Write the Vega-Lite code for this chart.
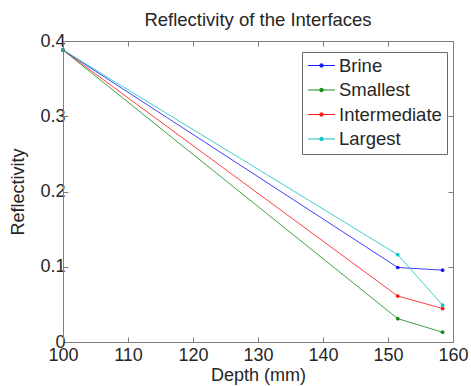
{
  "$schema": "https://vega.github.io/schema/vega-lite/v6.json",
  "autosize": {"type": "none"},
  "width": 390,
  "height": 301,
  "padding": {"left": 63, "top": 41, "right": 18, "bottom": 44},
  "background": "white",
  "config": {
    "font": "Liberation Sans",
    "view": {"stroke": null},
    "axis": {
      "grid": false,
      "domainColor": "#7f7f7f",
      "tickColor": "#7f7f7f",
      "tickSize": -5,
      "labelColor": "#262626",
      "titleColor": "#262626",
      "labelFontSize": 18,
      "titleFontSize": 18,
      "titleFontWeight": "normal",
      "labelFlush": false,
      "labelOverlap": false
    }
  },
  "title": {
    "text": "Reflectivity of the Interfaces",
    "fontSize": 18.5,
    "fontWeight": "normal",
    "color": "#262626",
    "anchor": "middle",
    "offset": 3
  },
  "data": {
    "values": [
      {"series": "Brine", "depth": 100, "reflectivity": 0.388},
      {"series": "Brine", "depth": 151.5, "reflectivity": 0.099},
      {"series": "Brine", "depth": 158.4, "reflectivity": 0.0955},
      {"series": "Smallest", "depth": 100, "reflectivity": 0.388},
      {"series": "Smallest", "depth": 151.5, "reflectivity": 0.031},
      {"series": "Smallest", "depth": 158.4, "reflectivity": 0.013},
      {"series": "Intermediate", "depth": 100, "reflectivity": 0.388},
      {"series": "Intermediate", "depth": 151.5, "reflectivity": 0.061},
      {"series": "Intermediate", "depth": 158.4, "reflectivity": 0.0445},
      {"series": "Largest", "depth": 100, "reflectivity": 0.388},
      {"series": "Largest", "depth": 151.5, "reflectivity": 0.116},
      {"series": "Largest", "depth": 158.4, "reflectivity": 0.049}
    ]
  },
  "resolve": {"axis": {"x": "independent", "y": "independent"}},
  "layer": [
    {
      "mark": {"type": "line", "strokeWidth": 1, "opacity": 0.75},
      "encoding": {
        "x": {
          "field": "depth", "type": "quantitative",
          "scale": {"domain": [100, 160], "nice": false, "zero": false},
          "axis": {"title": "Depth (mm)", "values": [100, 110, 120, 130, 140, 150, 160], "format": "d", "labelPadding": 9, "titlePadding": 2}
        },
        "y": {
          "field": "reflectivity", "type": "quantitative",
          "scale": {"domain": [0, 0.4], "nice": false},
          "axis": {"title": "Reflectivity", "values": [0, 0.1, 0.2, 0.3, 0.4], "format": "~g", "labelPadding": 3, "titlePadding": 12}
        },
        "color": {
          "field": "series", "type": "nominal",
          "scale": {"domain": ["Brine", "Smallest", "Intermediate", "Largest"], "range": ["#0000ff", "#008000", "#ff0000", "#00bfbf"]},
          "legend": {
            "orient": "none",
            "legendX": 239,
            "legendY": 11,
            "title": null,
            "symbolType": "M-1,0H1M0.12,0A0.12,0.12,0,1,1,-0.12,0A0.12,0.12,0,1,1,0.12,0",
            "symbolSize": 729,
            "symbolStrokeWidth": 1.2,
            "clipHeight": 17,
            "labelFontSize": 18.5,
            "labelColor": "#262626",
            "labelOffset": 3,
            "padding": 5,
            "rowPadding": 5.5,
            "strokeColor": "#6a6a6a",
            "fillColor": "white",
            "symbolOpacity": 0.75
          }
        }
      }
    },
    {
      "mark": {"type": "point", "filled": true, "size": 14, "opacity": 0.9},
      "encoding": {
        "x": {"field": "depth", "type": "quantitative", "axis": {"orient": "top", "labels": false, "title": null, "values": [100, 110, 120, 130, 140, 150, 160]}},
        "y": {"field": "reflectivity", "type": "quantitative", "axis": {"orient": "right", "labels": false, "title": null, "values": [0, 0.1, 0.2, 0.3, 0.4]}},
        "color": {"field": "series", "type": "nominal"}
      }
    }
  ]
}
